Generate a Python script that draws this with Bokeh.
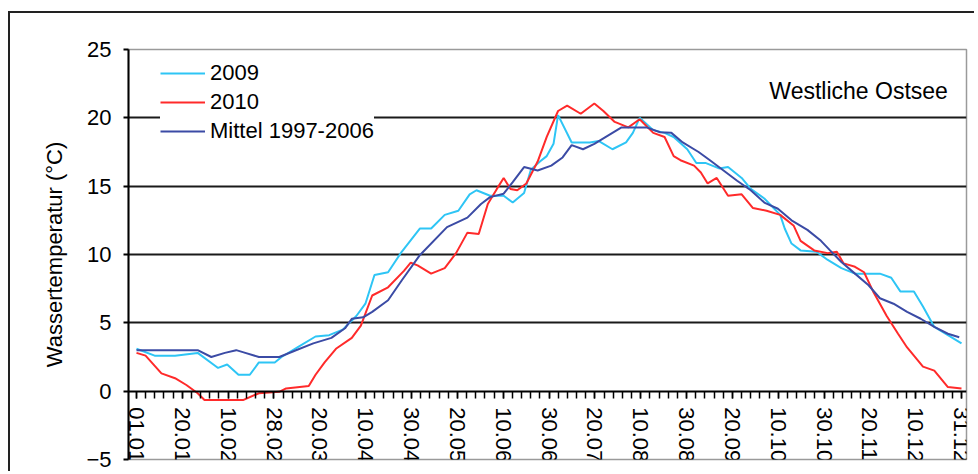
from bokeh.plotting import figure
from bokeh.models import FixedTicker, Legend, LegendItem, Label, Range1d
from bokeh.embed import file_html
from bokeh.resources import INLINE
import numpy as np

date_labels = ["01.01.", "20.01.", "10.02.", "28.02.", "20.03.", "10.04.", "30.04.",
               "20.05.", "10.06.", "30.06.", "20.07.", "10.08.", "30.08.", "20.09.",
               "10.10.", "30.10.", "20.11.", "10.12.", "31.12."]
y_ticks = [-5, 0, 5, 10, 15, 20, 25]

days_2009 = [1, 9, 18, 28, 37, 41, 46, 51, 55, 62, 65, 72, 80, 86, 92, 98, 102, 106, 112, 118,
             126, 131, 137, 143, 148, 151, 157, 163, 167, 172, 175, 179, 182, 185, 187, 193,
             201, 205, 211, 217, 220, 223, 229, 234, 238, 244, 248, 252, 258, 262, 268, 272,
             278, 285, 287, 290, 294, 301, 306, 312, 318, 329, 334, 338, 344, 348, 353, 359, 365]
temp_2009 = [3.1, 2.6, 2.6, 2.8, 1.7, 1.95, 1.2, 1.2, 2.1, 2.1, 2.5, 3.2, 4.0, 4.1, 4.5, 5.5,
             6.4, 8.5, 8.7, 10.2, 11.9, 11.9, 12.9, 13.2, 14.4, 14.7, 14.3, 14.3, 13.8, 14.5,
             16.2, 16.8, 17.2, 18.1, 20.2, 18.2, 18.2, 18.3, 17.7, 18.2, 18.9, 20.0, 19.1,
             18.9, 18.6, 17.7, 16.7, 16.7, 16.3, 16.4, 15.6, 14.8, 14.1, 12.9, 11.9, 10.8,
             10.3, 10.2, 9.6, 9.0, 8.6, 8.6, 8.3, 7.3, 7.3, 6.2, 4.7, 4.1, 3.5]

days_2010 = [1, 5, 12, 18, 23, 28, 31, 48, 55, 64, 67, 77, 80, 84, 89, 96, 100, 105, 112, 119,
             122, 125, 131, 137, 142, 147, 152, 156, 160, 163, 166, 169, 173, 178, 182, 187,
             191, 197, 203, 207, 212, 218, 223, 229, 234, 238, 241, 247, 250, 253, 257, 262,
             268, 273, 279, 285, 291, 294, 300, 306, 310, 313, 318, 322, 326, 332, 337, 341,
             348, 353, 359, 365]
temp_2010 = [2.8, 2.6, 1.3, 0.95, 0.45, -0.15, -0.65, -0.65, -0.15, -0.05, 0.2, 0.37, 1.2,
             2.1, 3.1, 3.9, 4.8, 7.0, 7.6, 8.8, 9.4, 9.2, 8.6, 9.0, 10.1, 11.6, 11.5, 13.7,
             14.8, 15.6, 14.8, 14.7, 15.2, 16.8, 18.6, 20.5, 20.9, 20.3, 21.05, 20.5, 19.7,
             19.3, 19.9, 18.9, 18.6, 17.2, 16.9, 16.5, 16.0, 15.2, 15.6, 14.3, 14.4, 13.4,
             13.2, 12.9, 12.1, 11.0, 10.3, 10.1, 10.2, 9.35, 9.1, 8.7, 7.3, 5.5, 4.2, 3.2,
             1.8, 1.5, 0.3, 0.2]

days_mean = [1, 28, 34, 40, 45, 49, 55, 64, 70, 79, 87, 93, 96, 101, 105, 112, 118, 126, 138,
             147, 153, 157, 163, 167, 172, 178, 184, 189, 193, 198, 203, 209, 215, 220, 226,
             232, 237, 242, 249, 254, 260, 266, 272, 278, 284, 290, 297, 303, 307, 312, 318,
             324, 329, 335, 341, 347, 353, 359, 364]
temp_mean = [3.0, 3.0, 2.5, 2.8, 3.0, 2.8, 2.5, 2.5, 2.9, 3.5, 3.9, 4.6, 5.3, 5.4, 5.8, 6.65,
             8.1, 9.95, 12.0, 12.7, 13.7, 14.2, 14.45, 15.3, 16.4, 16.15, 16.5, 17.1, 18.0,
             17.7, 18.1, 18.7, 19.3, 19.3, 19.3, 18.95, 18.9, 18.2, 17.5, 16.9, 16.15, 15.4,
             14.7, 13.8, 13.35, 12.5, 11.8, 11.0, 10.3, 9.45, 8.6, 7.75, 6.8, 6.4, 5.8, 5.3,
             4.7, 4.2, 3.95]

FONT = "Liberation Sans"
n_int = len(date_labels) - 1


def to_x(days):
    # day of year -> label-interval units (01.01. = 0, 31.12. = 18)
    return (np.asarray(days, dtype=float) - 1) * n_int / 364.0


p = figure(width=966, height=460, output_backend="svg", toolbar_location=None,
           x_range=Range1d(-0.1745, n_int + 0.109), y_range=Range1d(-5, 25),
           min_border_left=118, min_border_right=10, min_border_top=36, min_border_bottom=14)
p.styles = {"margin-top": "11px", "margin-left": "8px",
            "border-top": "2px solid #222", "border-left": "2px solid #222"}
p.background_fill_color = "white"
p.border_fill_color = "white"
p.outline_line_color = "#9a9a9a"
p.outline_line_width = 1.5

r1 = p.line(to_x(days_2009), temp_2009, line_color="#2EC5F5", line_width=2)
r2 = p.line(to_x(days_2010), temp_2010, line_color="#FF2A2A", line_width=2)
r3 = p.line(to_x(days_mean), temp_mean, line_color="#3B4BA5", line_width=2)

# x axis drawn at 0
xa = p.xaxis[0]
xa.fixed_location = 0
xa.ticker = FixedTicker(ticks=list(range(len(date_labels))),
                        minor_ticks=[i / 5 for i in range(5 * n_int + 1)])
xa.major_label_overrides = {i: lab for i, lab in enumerate(date_labels)}
xa.major_label_orientation = "vertical"
xa.major_tick_out = 7
xa.major_tick_in = 0
xa.minor_tick_out = 7
xa.minor_tick_in = 0
xa.axis_line_color = "black"
xa.axis_line_width = 2
xa.major_tick_line_color = "black"
xa.minor_tick_line_color = "black"
xa.major_tick_line_width = 1.5
xa.minor_tick_line_width = 1.5
xa.major_label_text_font = FONT
xa.major_label_text_font_size = "22px"
xa.major_label_text_color = "black"
xa.major_label_standoff = 9

ya = p.yaxis[0]
ya.ticker = FixedTicker(ticks=y_ticks, minor_ticks=[])
ya.major_tick_out = 5
ya.major_tick_in = 0
ya.axis_line_color = "black"
ya.axis_line_width = 2
ya.major_tick_line_color = "black"
ya.major_tick_line_width = 2
ya.major_label_text_font = FONT
ya.major_label_text_font_size = "22px"
ya.major_label_text_color = "black"
ya.major_label_standoff = 12
ya.axis_label = "Wassertemperatur (°C)"
ya.axis_label_text_font = FONT
ya.axis_label_text_font_size = "22px"
ya.axis_label_text_font_style = "normal"
ya.axis_label_text_color = "black"
ya.axis_label_standoff = 16

p.xgrid.visible = False
p.ygrid.ticker = FixedTicker(ticks=[5, 10, 15, 20])
p.ygrid.grid_line_color = "#1a1a1a"
p.ygrid.grid_line_width = 2

legend = Legend(items=[LegendItem(label="2009", renderers=[r1]),
                       LegendItem(label="2010", renderers=[r2]),
                       LegendItem(label="Mittel 1997-2006", renderers=[r3])],
                location=(32, 315))
legend.border_line_color = None
legend.background_fill_color = "white"
legend.background_fill_alpha = 1.0
legend.padding = 14
legend.spacing = 3
legend.margin = 0
legend.label_height = 20
legend.glyph_height = 20
legend.glyph_width = 45
legend.label_standoff = 5
legend.label_text_font = FONT
legend.label_text_font_size = "22px"
legend.label_text_color = "black"
p.add_layout(legend)

p.add_layout(Label(x=to_x([359])[0], y=22, text="Westliche Ostsee", text_align="right",
                   text_baseline="middle", text_font=FONT, text_font_size="23px",
                   text_color="black"))

open("out.html", "w").write(file_html(p, INLINE))
